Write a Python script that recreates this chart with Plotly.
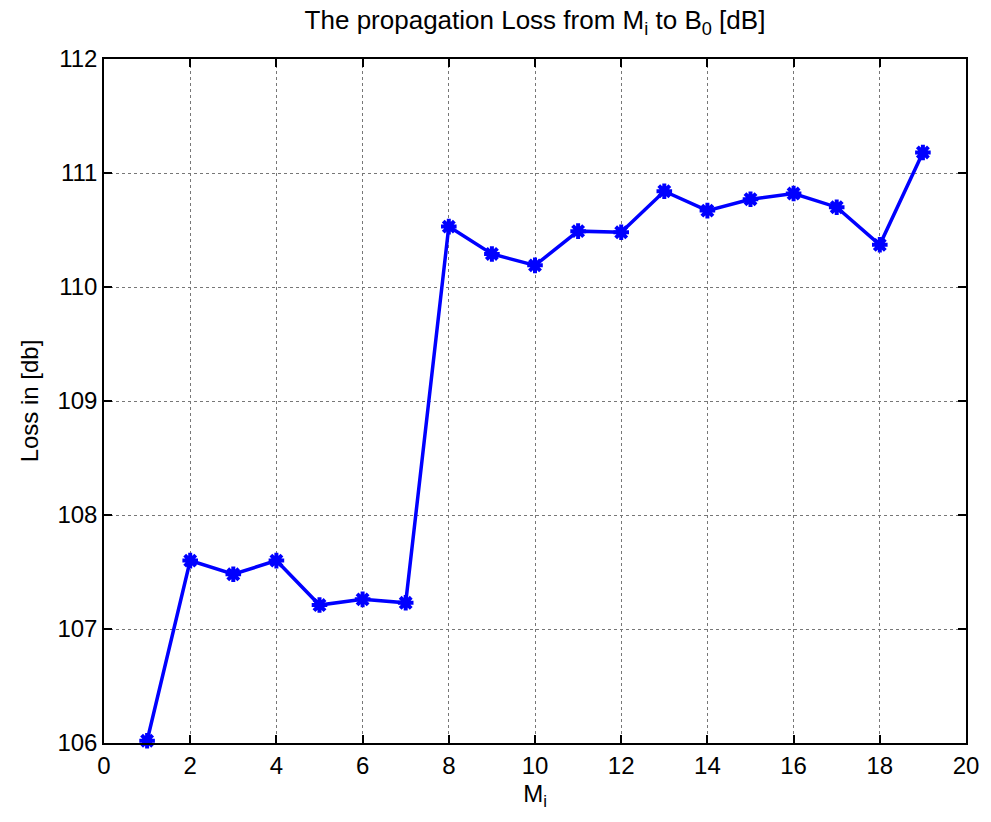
import plotly.graph_objects as go

mi = list(range(1, 20))
loss_db = [106.02, 107.60, 107.48, 107.60, 107.21, 107.26, 107.23,
           110.53, 110.29, 110.19, 110.49, 110.48, 110.84, 110.67,
           110.77, 110.82, 110.70, 110.37, 111.18]

x_ticks = list(range(0, 21, 2))
y_ticks = list(range(106, 113))

fig = go.Figure()
fig.add_trace(go.Scatter(
    x=mi, y=loss_db, mode="lines+markers",
    line=dict(color="#0000ff", width=3.5),
    marker=dict(symbol="asterisk-open", size=13, color="#0000ff",
                line=dict(color="#0000ff", width=4)),
    cliponaxis=False, showlegend=False,
))

font = dict(family="Liberation Sans, Arial, sans-serif", color="black")
axis_common = dict(
    showline=True, linecolor="black", linewidth=1.5, mirror="allticks",
    ticks="inside", ticklen=8, tickwidth=1.5, tickcolor="black",
    showgrid=True, gridcolor="#777777", griddash="dot", gridwidth=1,
    zeroline=False, tickfont=dict(size=24, **font),
)

fig.update_layout(
    width=983, height=814,
    paper_bgcolor="white", plot_bgcolor="white",
    margin=dict(l=96, r=18, t=51, b=79),
    title=dict(text="The propagation Loss from M<sub>i</sub> to B<sub>0</sub> [dB]",
               x=527 / 983, xanchor="center",
               y=1 - 12 / 814, yanchor="middle",
               font=dict(size=26, **font)),
    xaxis=dict(range=[0, 20], tickvals=x_ticks,
               title=dict(text="M<sub>i</sub>", font=dict(size=24, **font), standoff=8),
               **axis_common),
    yaxis=dict(range=[106, 112], tickvals=y_ticks,
               title=dict(text="Loss in [db]", font=dict(size=24, **font), standoff=12),
               **axis_common),
)

fig.write_html("out.html")
